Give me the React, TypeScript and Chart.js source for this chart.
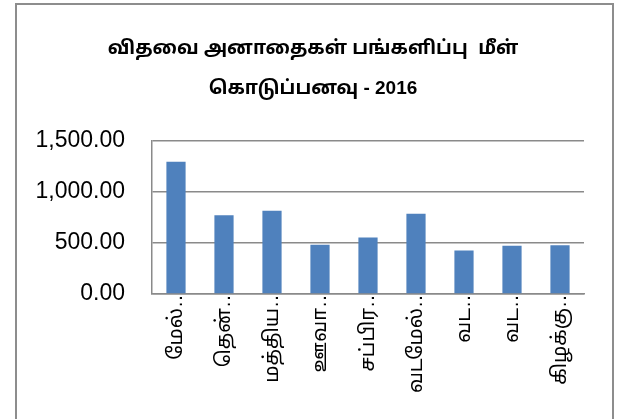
import React, { useEffect, useRef } from "react";
import Chart from "chart.js/auto";

const titleLines = ["விதவை அனாதைகள் பங்களிப்பு  மீள்", "கொடுப்பனவு - 2016"];
const categories = ["மேல்…", "தென்…", "மத்திய…", "ஊவா…", "சப்பிர…", "வடமேல்…", "வட…", "வட…", "கிழக்கு…"];
const values = [1294, 770, 815, 481, 554, 786, 426, 472, 478];
const yMin = 0;
const yMax = 1500;
const yStep = 500;

const FONT = "'Liberation Sans', Arial, 'Noto Sans Tamil', 'Noto Sans Tamil UI', 'Noto Sans', sans-serif";

export default function App() {
  const ref = useRef<HTMLCanvasElement | null>(null);
  useEffect(() => {
    if (!ref.current) return;
    const chart = new Chart(ref.current, {
      type: "bar",
      data: {
        labels: categories,
        datasets: [
          {
            data: values,
            backgroundColor: "#4f81bd",
            borderWidth: 0,
            barPercentage: 0.4,
            categoryPercentage: 1,
            yAxisID: "y",
          },
        ],
      },
      options: {
        animation: false,
        responsive: false,
        maintainAspectRatio: false,
        layout: { padding: { left: 0, right: 5, top: 29, bottom: 0 } },
        plugins: {
          legend: { display: false },
          tooltip: { enabled: false },
          title: {
            display: true,
            text: titleLines,
            color: "#000",
            font: { family: FONT, size: 19, weight: "bold", lineHeight: 2.1 },
            padding: { top: 0, bottom: 32 },
          },
        },
        scales: {
          x: {
            grid: { display: false, drawTicks: false },
            border: { display: true, color: "#8a8a8a", width: 1.5 },
            ticks: {
              color: "#000",
              font: { family: FONT, size: 20 },
              minRotation: 90,
              maxRotation: 90,
              autoSkip: false,
              padding: -6,
            },
            afterFit: (s: any) => {
              s.height = 125;
            },
          },
          y: {
            position: "left",
            min: yMin,
            max: yMax,
            grid: { color: "#8a8a8a", lineWidth: 1.5, drawTicks: false },
            border: { display: true, color: "#8a8a8a", width: 1.5 },
            ticks: {
              stepSize: yStep,
              color: "#000",
              font: { family: FONT, size: 23 },
              padding: 27,
              callback: (v: any) =>
                Number(v).toLocaleString("en-US", { minimumFractionDigits: 2, maximumFractionDigits: 2 }),
            },
            afterFit: (s: any) => {
              s.width = 152;
            },
          },
          yRightSpace: {
            position: "right",
            display: true,
            min: yMin,
            max: yMax,
            grid: { display: false, drawTicks: false },
            border: { display: false },
            ticks: { display: false },
            afterFit: (s: any) => {
              s.width = 42;
            },
          },
        },
      },
    });
    return () => chart.destroy();
  }, []);
  return (
    <div style={{ position: "fixed", left: 0, top: 0, width: 631, height: 419, background: "#fff", overflow: "hidden" }}>
      <div
        style={{
          position: "absolute",
          left: 15,
          top: 3,
          width: 599,
          height: 450,
          border: "2px solid #8d8d8d",
          boxSizing: "border-box",
        }}
      />
      <canvas ref={ref} width={631} height={419} style={{ position: "absolute", left: 0, top: 0 }} />
    </div>
  );
}
